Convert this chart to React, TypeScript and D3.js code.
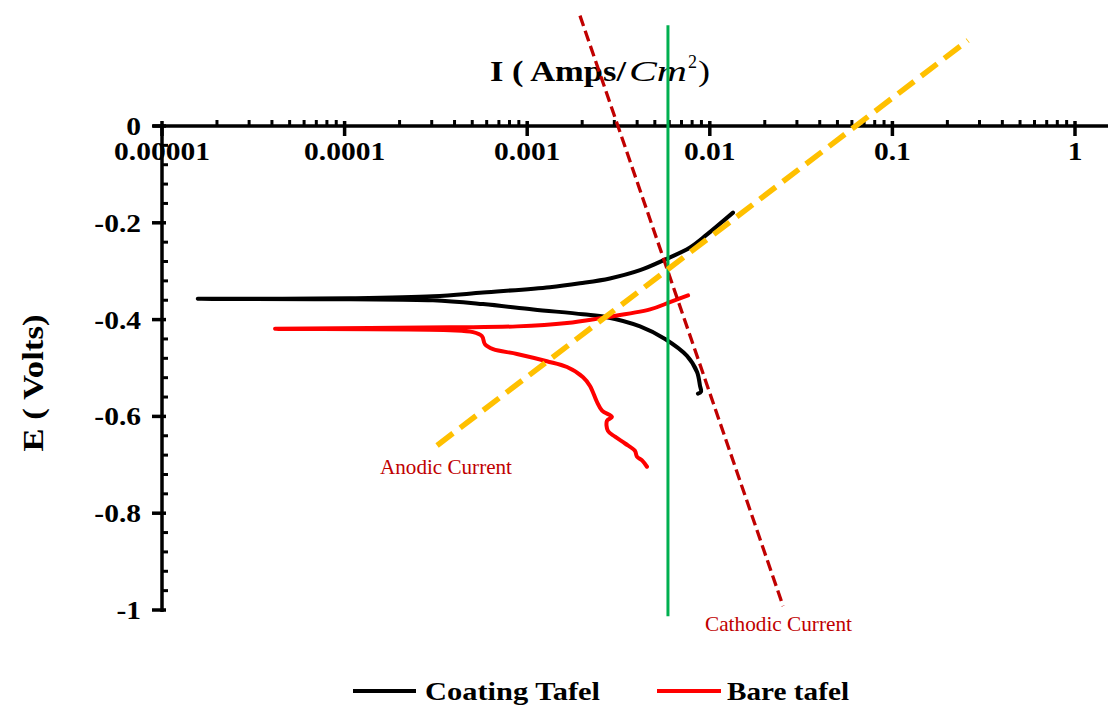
import React from 'react';
import * as d3 from 'd3';

// ---- Data ----
const xTickValues = [1e-5, 1e-4, 1e-3, 1e-2, 1e-1, 1];
const xTickLabels = ['0.00001', '0.0001', '0.001', '0.01', '0.1', '1'];
const yTickValues = [0, -0.2, -0.4, -0.6, -0.8, -1];
const yTickLabels = ['0', '-0.2', '-0.4', '-0.6', '-0.8', '-1'];

const seriesNames = ['Coating Tafel', 'Bare tafel'];

// Coating Tafel (from cathodic end to anodic end)
const coatingI = [0.00861, 0.00895, 0.00884, 0.00851, 0.0075, 0.00569, 0.00415, 0.00273, 0.00202, 0.00108, 0.000573, 0.000305, 0.000107, 0.0000157, 0.000107, 0.000305, 0.000573, 0.00133, 0.001945, 0.002837, 0.00415, 0.005689, 0.007798, 0.009666, 0.0134];
const coatingE = [-0.553, -0.549, -0.537, -0.508, -0.475, -0.44, -0.414, -0.395, -0.389, -0.379, -0.368, -0.36, -0.358, -0.357, -0.356, -0.352, -0.344, -0.333, -0.325, -0.315, -0.298, -0.276, -0.251, -0.224, -0.179];

// Bare tafel (from cathodic end to anodic end)
const bareI = [0.004529, 0.004256, 0.00399, 0.00389, 0.003436, 0.003027, 0.002767, 0.002735, 0.002911, 0.00257, 0.00241, 0.002208, 0.002023, 0.001652, 0.001282, 0.000879, 0.00065, 0.000587, 0.000565, 0.000505, 0.000378, 0.0000416, 0.000378, 0.000879, 0.00165, 0.00251, 0.00471, 0.00605, 0.0076];
const bareE = [-0.704, -0.691, -0.683, -0.671, -0.656, -0.642, -0.63, -0.609, -0.601, -0.588, -0.57, -0.537, -0.519, -0.498, -0.486, -0.471, -0.461, -0.451, -0.434, -0.426, -0.422, -0.419, -0.416, -0.414, -0.407, -0.397, -0.379, -0.364, -0.35];

// Construction lines
const corrI = [0.0059, 0.0059];
const corrE = [0.208, -1.013];
const cathodicI = [0.001945, 0.0252];
const cathodicE = [0.228, -0.992];
const anodicI = [0.000321, 0.2594];
const anodicE = [-0.66, 0.177];

const annotationLabels = ['Anodic Current', 'Cathodic Current'];

const W = 1108;
const H = 707;

export default function App() {
  const x = d3.scaleLog().domain([1e-5, 1]).range([162, 1075]);
  const y = d3.scaleLinear().domain([0, -1]).range([126, 610]);

  const pts = (I: number[], E: number[]) => I.map((v, i) => [v, E[i]] as [number, number]);
  const curve = d3
    .line<[number, number]>()
    .x((d) => x(d[0]))
    .y((d) => y(d[1]))
    .curve(d3.curveCatmullRom.alpha(0.5));
  const straight = d3
    .line<[number, number]>()
    .x((d) => x(d[0]))
    .y((d) => y(d[1]));

  const minorX: number[] = [];
  for (let e = -5; e < 0; e++) {
    for (let k = 2; k <= 9; k++) minorX.push(k * Math.pow(10, e));
  }
  const minorY: number[] = [];
  for (let i = 1; i < 25; i++) {
    if (i % 5 !== 0) minorY.push(-i * 0.04);
  }

  const font = "'Liberation Serif', 'Times New Roman', serif";
  const y0 = y(0);
  const axX = x(1e-5);

  return (
    <svg width={W} height={H} style={{ position: 'absolute', left: 0, top: 0, background: '#fff' }} fontFamily={font}>
      <rect x={0} y={0} width={W} height={H} fill="#fff" />
      {/* X axis */}
      <line x1={153} x2={W} y1={y0} y2={y0} stroke="#000" strokeWidth={3.5} />
      {minorX.map((v, i) => (
        <line key={'mx' + i} x1={x(v)} x2={x(v)} y1={y0} y2={y0 - 6} stroke="#000" strokeWidth={3} />
      ))}
      {xTickValues.map((v, i) => (
        <line key={'Mx' + i} x1={x(v)} x2={x(v)} y1={y0 - 5} y2={y0 + 10} stroke="#000" strokeWidth={3.5} />
      ))}
      {xTickValues.map((v, i) => (
        <text
          key={'lx' + i}
          transform={`translate(${x(v)},${y0 + 34}) scale(1.18,1)`}
          textAnchor="middle"
          fontWeight="bold"
          fontSize={25}
          fill="#000"
        >
          {xTickLabels[i]}
        </text>
      ))}
      {/* Y axis */}
      <line x1={axX} x2={axX} y1={y0 - 2} y2={y(-1) + 2} stroke="#000" strokeWidth={3.5} />
      {minorY.map((v, i) => (
        <line key={'my' + i} x1={axX} x2={axX + 6} y1={y(v)} y2={y(v)} stroke="#000" strokeWidth={3} />
      ))}
      {yTickValues.map((v, i) => (
        <line key={'My' + i} x1={axX - 10} x2={axX + 4} y1={y(v)} y2={y(v)} stroke="#000" strokeWidth={3.5} />
      ))}
      {yTickValues.map((v, i) => (
        <text
          key={'ly' + i}
          transform={`translate(${axX - 21},${y(v) + 9}) scale(1.18,1)`}
          textAnchor="end"
          fontWeight="bold"
          fontSize={25}
          fill="#000"
        >
          {yTickLabels[i]}
        </text>
      ))}

      {/* Axis titles */}
      <text x={490} y={81} fontSize={29} fontWeight="bold" textLength={136} lengthAdjust="spacingAndGlyphs" fill="#000">
        I ( Amps/
      </text>
      <text x={629} y={81} fontSize={30} fontStyle="italic" textLength={58} lengthAdjust="spacingAndGlyphs" fill="#000">
        Cm
      </text>
      <text x={688} y={68} fontSize={19} textLength={9} lengthAdjust="spacingAndGlyphs" fill="#000">
        2
      </text>
      <text x={698} y={81} fontSize={29} textLength={12} lengthAdjust="spacingAndGlyphs" fill="#000">
        )
      </text>
      <text
        transform="translate(43,383) rotate(-90)"
        textAnchor="middle"
        fontSize={30}
        fontWeight="bold"
        textLength={137}
        lengthAdjust="spacingAndGlyphs"
        fill="#000"
      >
        E ( Volts)
      </text>

      {/* Curves */}
      <path d={curve(pts(coatingI, coatingE)) || ''} fill="none" stroke="#000" strokeWidth={4} strokeLinecap="round" strokeLinejoin="round" />
      <path d={curve(pts(bareI, bareE)) || ''} fill="none" stroke="#ff0000" strokeWidth={4} strokeLinecap="round" strokeLinejoin="round" />

      {/* Construction lines */}
      <path d={straight(pts(cathodicI, cathodicE)) || ''} fill="none" stroke="#C00000" strokeWidth={3.3} strokeDasharray="11 5" />
      <path d={straight(pts(corrI, corrE)) || ''} fill="none" stroke="#00B050" strokeWidth={3} />
      <path d={straight(pts(anodicI, anodicE)) || ''} fill="none" stroke="#FFC000" strokeWidth={5.5} strokeDasharray="20 9" />

      {/* Annotations */}
      <text x={380} y={474} fontSize={21} fill="#C00000" textLength={132} lengthAdjust="spacingAndGlyphs">
        {annotationLabels[0]}
      </text>
      <text x={705} y={631} fontSize={21} fill="#C00000" textLength={147} lengthAdjust="spacingAndGlyphs">
        {annotationLabels[1]}
      </text>

      {/* Legend */}
      <line x1={353} x2={416} y1={691} y2={691} stroke="#000" strokeWidth={4} />
      <text x={425} y={700} fontSize={25} fontWeight="bold" textLength={175} lengthAdjust="spacingAndGlyphs" fill="#000">
        {seriesNames[0]}
      </text>
      <line x1={657} x2={721} y1={691} y2={691} stroke="#ff0000" strokeWidth={4} />
      <text x={727} y={700} fontSize={25} fontWeight="bold" textLength={122} lengthAdjust="spacingAndGlyphs" fill="#000">
        {seriesNames[1]}
      </text>
    </svg>
  );
}
